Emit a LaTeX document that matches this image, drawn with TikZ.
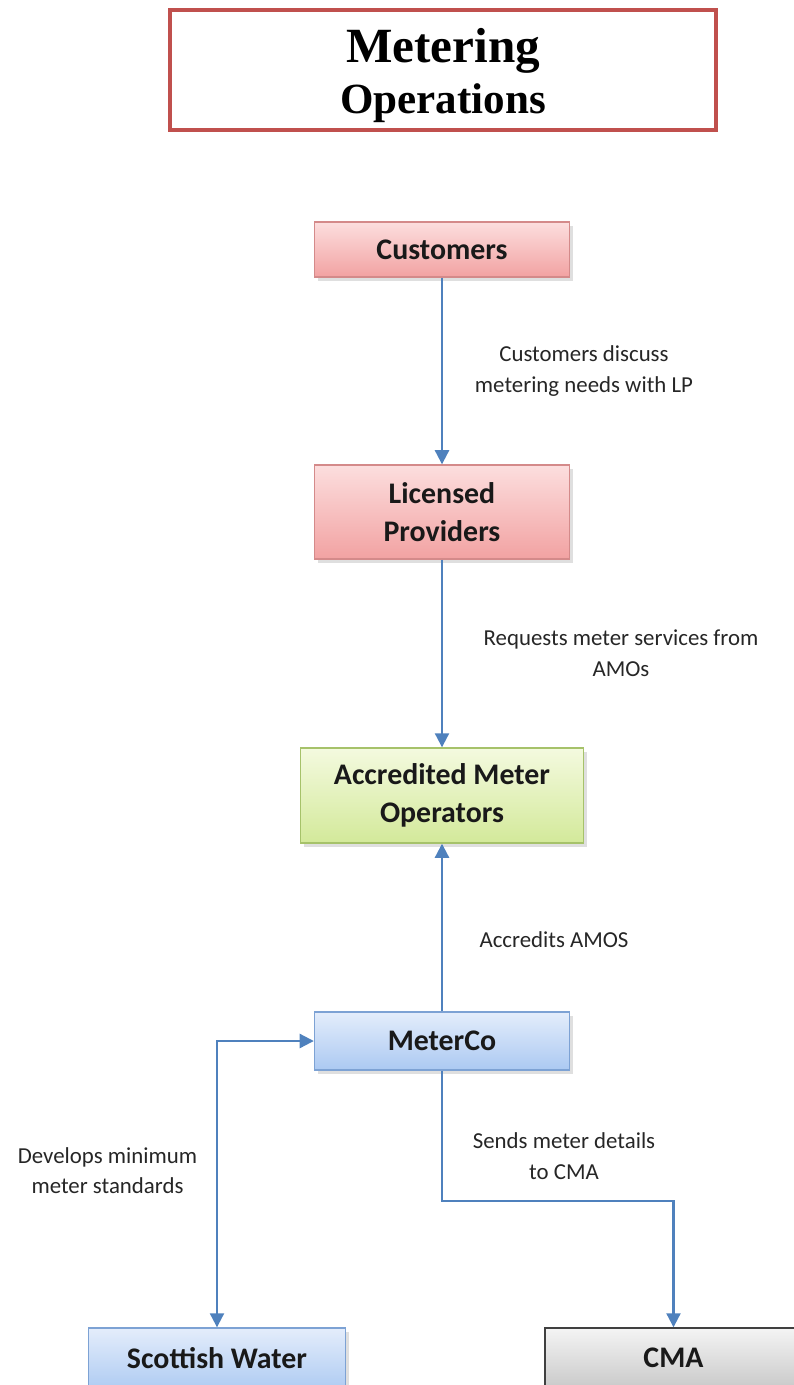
\documentclass[tikz,border=0pt]{standalone}
\usepackage{xcolor}
\usepackage{fontspec}
\setmainfont{Carlito}
\newfontfamily\titlefont{Liberation Serif}
\usepackage{tikz}
\usetikzlibrary{positioning, arrows.meta, shadows}

\definecolor{titlered}{HTML}{C0504D}
\definecolor{flowblue}{HTML}{4F81BD}
\definecolor{pinktop}{HTML}{FCDEDE}
\definecolor{pinkbot}{HTML}{F2A2A2}
\definecolor{pinkline}{HTML}{D48A8A}
\definecolor{greentop}{HTML}{F4FADF}
\definecolor{greenbot}{HTML}{D3E99A}
\definecolor{greenline}{HTML}{A6C26A}
\definecolor{bluetop}{HTML}{E4EDFB}
\definecolor{bluebot}{HTML}{ABC9F2}
\definecolor{blueline}{HTML}{7DA2D4}
\definecolor{greytop}{HTML}{F4F4F4}
\definecolor{greybot}{HTML}{C6C6C6}

\begin{document}
\begin{tikzpicture}[node distance=4cm, on grid,
    box/.style={rectangle, draw, line width=0.8pt, minimum width=5.1cm, minimum height=1.16cm,
      align=center, font=\fontsize{17}{21.5}\selectfont\bfseries, text=black!90,
      drop shadow={opacity=0.25, shadow xshift=0.06cm, shadow yshift=-0.07cm}},
    pinkbox/.style={box, draw=pinkline, top color=pinktop, bottom color=pinkbot},
    greenbox/.style={box, draw=greenline, top color=greentop, bottom color=greenbot},
    bluebox/.style={box, draw=blueline, top color=bluetop, bottom color=bluebot},
    greybox/.style={box, draw=black!75, top color=greytop, bottom color=greybot},
    flow/.style={draw=flowblue, line width=1.2pt, -{Triangle[length=8pt, width=8pt]}},
    lbl/.style={align=center, font=\fontsize{13}{17.6}\selectfont, text=black!85}]

  \useasboundingbox (0,0) rectangle (15.88,-27.7);

  % title
  \node[rectangle, draw=titlered, line width=2pt, minimum width=10.92cm, minimum height=2.4cm,
        align=center, font=\titlefont] (Title) at (8.86,-1.4)
        {{\fontsize{28}{28}\selectfont\bfseries\rule{0pt}{26pt}Metering}\\[5pt]{\fontsize{24.5}{28}\selectfont\bfseries Operations}};

  \node[pinkbox, minimum height=1.1cm] (Cust) at (8.84,-4.99) {Customers};
  \node[pinkbox, minimum height=1.88cm] (LicProv) [below=5.25cm of Cust] {Licensed\\Providers};
  \node[greenbox, minimum width=5.66cm, minimum height=1.9cm] (AccMO) [below=5.67cm of LicProv] {Accredited Meter\\Operators};
  \node[bluebox] (MeterCo) [below=4.91cm of AccMO] {MeterCo};
  \node[bluebox, minimum width=5.14cm, minimum height=1.3cm] (ScotW) [below left=6.39cm and 4.5cm of MeterCo] {\raisebox{3pt}{Scottish Water}};
  \node[greybox, minimum width=5.14cm, minimum height=1.3cm] (CMA) [below right=6.39cm and 4.63cm of MeterCo] {\raisebox{3pt}{CMA}};

  \draw[flow] (Cust) -- node[lbl, xshift=2.84cm] {Customers discuss\\metering needs with LP} (LicProv);
  \draw[flow] (LicProv) -- node[lbl, xshift=3.58cm] {Requests meter services from\\AMOs} (AccMO);
  \draw[flow] (MeterCo) -- node[lbl, xshift=2.24cm, yshift=-0.25cm] {Accredits AMOS} (AccMO);

  \draw[flow, {Triangle[length=8pt, width=8pt]}-{Triangle[length=8pt, width=8pt]}]
    (ScotW.north) |- node[lbl, pos=0.25, xshift=-2.19cm, yshift=0.27cm] {Develops minimum\\meter standards} (MeterCo.west);

  \draw[flow] (MeterCo.south) -- node[lbl, xshift=2.44cm, yshift=-0.41cm] {Sends meter details\\to CMA} ++(0,-2.6) -| (CMA.north);

\end{tikzpicture}
\end{document}
